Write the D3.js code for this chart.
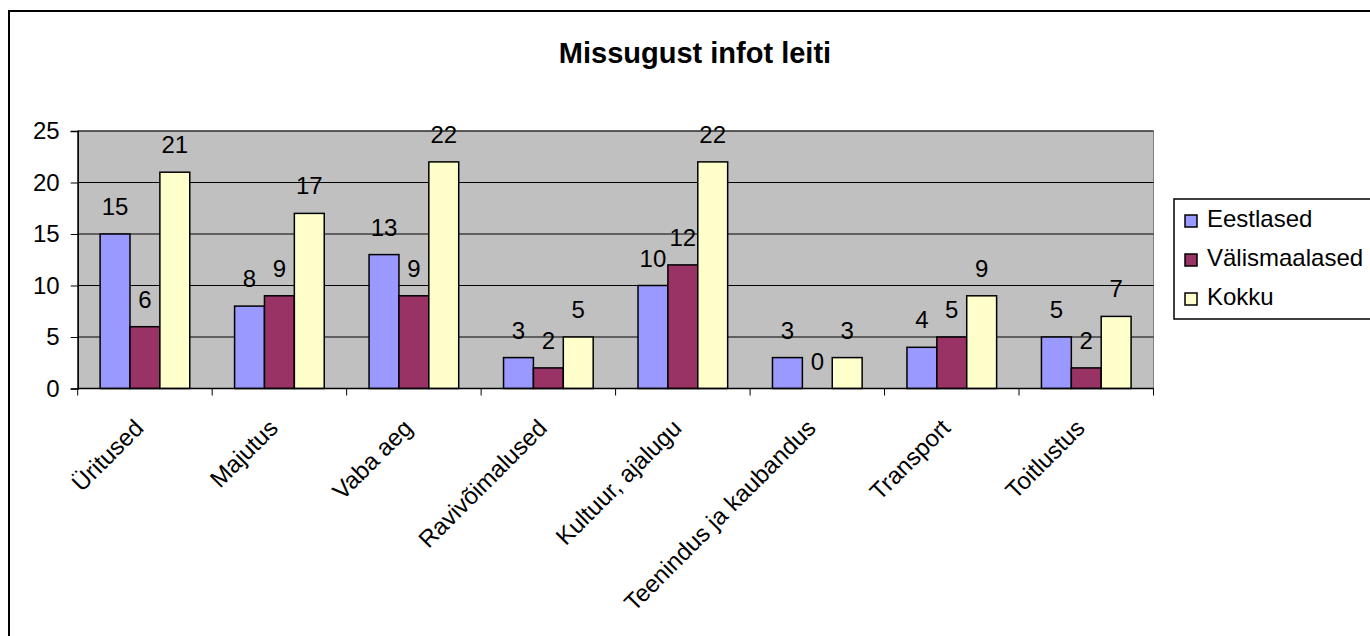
<!DOCTYPE html>
<html>
<head>
<meta charset="utf-8">
<script src="https://cdn.jsdelivr.net/npm/d3@7"></script>
<style>
  body { margin: 0; background: #fff; }
  svg { font-family: "Liberation Sans", Arial, sans-serif; }
</style>
</head>
<body>
<svg id="chart" width="1370" height="636"></svg>
<script>
var categories = ["Üritused", "Majutus", "Vaba aeg", "Ravivõimalused", "Kultuur, ajalugu", "Teenindus ja kaubandus", "Transport", "Toitlustus"];
var seriesNames = ["Eestlased", "Välismaalased", "Kokku"];
var eestlased = [15, 8, 13, 3, 10, 3, 4, 5];
var valismaalased = [6, 9, 9, 2, 12, 0, 5, 2];
var kokku = [21, 17, 22, 5, 22, 3, 9, 7];
var yTicks = [0, 5, 10, 15, 20, 25];
var colors = ["#9999FF", "#993366", "#FFFFCC"];

var seriesValues = [eestlased, valismaalased, kokku];

var svg = d3.select("#chart");

//Outer chart frame (only top and left edges are visible in the picture)
svg.append("path")
  .attr("d", "M 9 640 L 9 11 L 1375 11")
  .attr("fill", "none")
  .attr("stroke", "#000")
  .attr("stroke-width", 2);

//Title
svg.append("text")
  .attr("x", 695)
  .attr("y", 63)
  .attr("text-anchor", "middle")
  .style("font-size", "29px")
  .style("font-weight", "bold")
  .text("Missugust infot leiti");

var plot = { left: 77.7, right: 1153.5, top: 131, bottom: 388.5 };

var x = d3.scaleBand()
  .domain(categories)
  .range([plot.left, plot.right]);

//Excel-like gap width: 3 bars + 1.5 bar widths gap per category
var barW = x.bandwidth() / 4.5;

var y = d3.scaleLinear()
  .domain([0, 25])
  .range([plot.bottom, plot.top]);

//Plot area background
svg.append("rect")
  .attr("x", plot.left)
  .attr("y", plot.top)
  .attr("width", plot.right - plot.left)
  .attr("height", plot.bottom - plot.top)
  .attr("fill", "#C0C0C0")
  .attr("stroke", "#808080")
  .attr("stroke-width", 1);

//Gridlines
svg.append("g")
  .selectAll("line")
  .data(yTicks.filter(function(d) { return d > 0; }))
  .enter().append("line")
  .attr("x1", plot.left)
  .attr("x2", plot.right)
  .attr("y1", function(d) { return y(d); })
  .attr("y2", function(d) { return y(d); })
  .attr("stroke", "#000")
  .attr("stroke-width", 1);

//Y axis
var yAxis = d3.axisLeft(y)
  .tickValues(yTicks)
  .tickSize(7)
  .tickPadding(11);

var gy = svg.append("g")
  .attr("transform", "translate(" + plot.left + ",0)")
  .call(yAxis);
gy.select(".domain").attr("stroke", "#000").attr("stroke-width", 1.5);
gy.selectAll(".tick line").attr("stroke", "#000");
gy.selectAll("text")
  .attr("fill", "#000")
  .style("font-size", "24px")
  .style("font-family", "Liberation Sans, Arial, sans-serif");

//Bars
categories.forEach(function(cat, i) {
  seriesValues.forEach(function(vals, s) {
    var bx = x(cat) + barW * 0.75 + s * barW;
    var v = vals[i];
    svg.append("rect")
      .attr("x", bx)
      .attr("y", y(v))
      .attr("width", barW)
      .attr("height", y(0) - y(v))
      .attr("fill", colors[s])
      .attr("stroke", "#000")
      .attr("stroke-width", 1.5);

    //Data label above bar
    svg.append("text")
      .attr("x", bx + barW / 2)
      .attr("y", y(v) - 19)
      .attr("text-anchor", "middle")
      .style("font-size", "24px")
      .text(v);
  });
});

//X axis with ticks between categories
var xTickPos = categories.map(function(c) { return x(c); }).concat([plot.right]);
svg.append("line")
  .attr("x1", plot.left)
  .attr("x2", plot.right)
  .attr("y1", plot.bottom)
  .attr("y2", plot.bottom)
  .attr("stroke", "#000")
  .attr("stroke-width", 1.5);
svg.append("g")
  .selectAll("line")
  .data(xTickPos)
  .enter().append("line")
  .attr("x1", function(d) { return d; })
  .attr("x2", function(d) { return d; })
  .attr("y1", plot.bottom)
  .attr("y2", plot.bottom + 7)
  .attr("stroke", "#000");

//Rotated category labels
svg.append("g")
  .selectAll("text")
  .data(categories)
  .enter().append("text")
  .attr("transform", function(d) {
    return "translate(" + (x(d) + x.bandwidth() / 2) + "," + (plot.bottom + 41) + ") rotate(-45)";
  })
  .attr("text-anchor", "end")
  .style("font-size", "24px")
  .text(function(d) { return d; });

//Legend
var legend = svg.append("g");
legend.append("rect")
  .attr("x", 1174)
  .attr("y", 199)
  .attr("width", 210)
  .attr("height", 120)
  .attr("fill", "#fff")
  .attr("stroke", "#000")
  .attr("stroke-width", 1.5);

seriesNames.forEach(function(name, s) {
  var base = 227 + s * 39;
  legend.append("rect")
    .attr("x", 1185)
    .attr("y", base - 12)
    .attr("width", 12)
    .attr("height", 12)
    .attr("fill", colors[s])
    .attr("stroke", "#000")
    .attr("stroke-width", 1.5);
  legend.append("text")
    .attr("x", 1207)
    .attr("y", base)
    .style("font-size", "24px")
    .text(name);
});
</script>
</body>
</html>
